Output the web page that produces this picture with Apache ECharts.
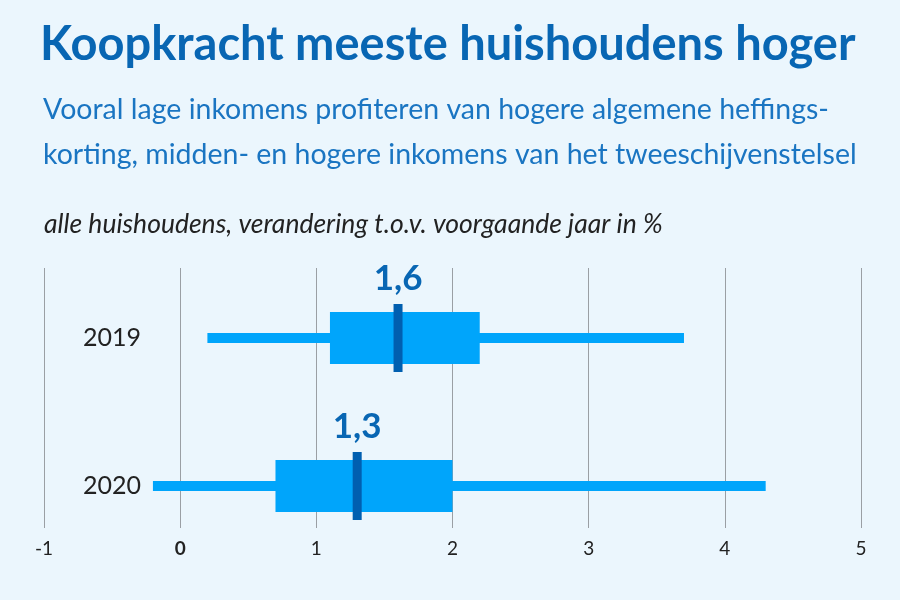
<!DOCTYPE html>
<html>
<head>
<meta charset="utf-8">
<script src="https://cdn.jsdelivr.net/npm/echarts@6/dist/echarts.min.js"></script>
<style>
html,body{margin:0;padding:0;background:#ebf6fd;}
#chart{width:900px;height:600px;}
</style>
</head>
<body>
<div id="chart"></div>
<script>
const titleText = 'Koopkracht meeste huishoudens hoger';
const subtitleLines = ['Vooral lage inkomens profiteren van hogere algemene heffings-', 'korting, midden- en hogere inkomens van het tweeschijvenstelsel'];
const axisTitle = 'alle huishoudens, verandering t.o.v. voorgaande jaar in %';
const categories = ['2019', '2020'];
const whiskerLow = [0.2, -0.2];
const q1 = [1.1, 0.7];
const median = [1.6, 1.3];
const q3 = [2.2, 2.0];
const whiskerHigh = [3.7, 4.3];
const xMin = -1, xMax = 5, xStep = 1;

const FONT = 'Lato, "Open Sans", sans-serif';
const BOX = '#00a5fb';
const MED = '#005fb0';
const DARKBLUE = '#0866b3';

const data = categories.map((c, i) => [i, whiskerLow[i], q1[i], median[i], q3[i], whiskerHigh[i]]);

const chart = echarts.init(document.getElementById('chart'));
chart.setOption({
  backgroundColor: '#ebf6fd',
  animation: false,
  title: [
    { text: titleText, left: 35, top: 16, textStyle: { fontFamily: FONT, fontSize: 47, fontWeight: 'bold', color: DARKBLUE } },
    { text: subtitleLines.join('\n'), left: 38, top: 82, textStyle: { fontFamily: FONT, fontSize: 28.5, fontWeight: 'normal', color: '#1a75c2', lineHeight: 45 } },
    { text: axisTitle, left: 39, top: 206, textStyle: { fontFamily: FONT, fontSize: 26.5, fontStyle: 'italic', fontWeight: 'normal', color: '#222' } }
  ],
  grid: [
    { left: 44, right: 39, top: 268, bottom: 72 },
    { left: 44, right: 39, top: 338, bottom: 114 }
  ],
  xAxis: [
    {
      gridIndex: 0, type: 'value', min: xMin, max: xMax, interval: xStep,
      axisLine: { show: false }, axisTick: { show: false },
      splitLine: { show: true, lineStyle: { color: '#9a9fa4', width: 1 } },
      axisLabel: {
        margin: 11, fontFamily: FONT, fontSize: 19, color: '#222',
        formatter: v => v === 0 ? '{b|0}' : String(v),
        rich: { b: { fontFamily: FONT, fontSize: 19, fontWeight: 'bold', color: '#222' } }
      }
    },
    {
      gridIndex: 1, type: 'value', min: xMin, max: xMax, interval: xStep, show: false
    }
  ],
  yAxis: [
    { gridIndex: 0, type: 'value', show: false },
    {
      gridIndex: 1, type: 'category', data: categories, inverse: true, boundaryGap: false,
      axisLine: { show: false }, axisTick: { show: false }, splitLine: { show: false },
      axisLabel: { margin: -97, fontFamily: FONT, fontSize: 25, color: '#222' }
    }
  ],
  series: [{
    type: 'custom',
    xAxisIndex: 1, yAxisIndex: 1,
    data: data,
    renderItem: function (params, api) {
      const cat = api.value(0);
      const pLow = api.coord([api.value(1), cat]);
      const pQ1 = api.coord([api.value(2), cat]);
      const pMed = api.coord([api.value(3), cat]);
      const pQ3 = api.coord([api.value(4), cat]);
      const pHigh = api.coord([api.value(5), cat]);
      const y = pMed[1];
      const wH = 10, bH = 52, mH = 68, mW = 9;
      const label = api.value(3).toFixed(1).replace('.', ',');
      return {
        type: 'group',
        children: [
          { type: 'rect', shape: { x: pLow[0], y: y - wH / 2, width: pHigh[0] - pLow[0], height: wH }, style: { fill: BOX } },
          { type: 'rect', shape: { x: pQ1[0], y: y - bH / 2, width: pQ3[0] - pQ1[0], height: bH }, style: { fill: BOX } },
          { type: 'rect', shape: { x: pMed[0] - mW / 2, y: y - mH / 2, width: mW, height: mH }, style: { fill: MED } },
          { type: 'text', style: { text: label, x: pMed[0], y: y - 59, align: 'center', verticalAlign: 'middle', font: 'bold 35px ' + FONT, fill: DARKBLUE } }
        ]
      };
    }
  }]
});
</script>
</body>
</html>
